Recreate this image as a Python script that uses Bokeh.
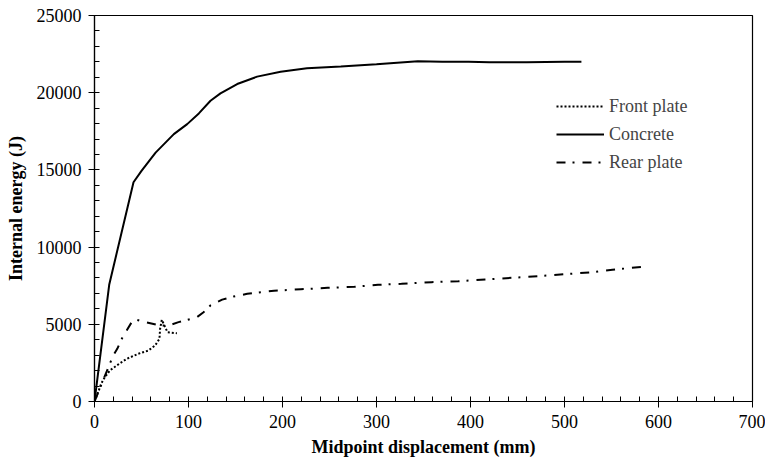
from bokeh.plotting import figure
from bokeh.models import FixedTicker, Legend, LegendItem
from bokeh.embed import file_html
from bokeh.resources import INLINE

# Concrete
concrete_x = [0, 15.7, 41.5, 50, 65, 84.4, 98.6, 111, 123.4, 134, 151.8, 173, 198, 226, 262, 300, 344, 370, 398, 420, 460, 500, 518]
concrete_y = [0, 7580, 14200, 14935, 16120, 17316, 17965, 18658, 19480, 19955, 20560, 21040, 21360, 21580, 21700, 21850, 22040, 22000, 22000, 21970, 21980, 22000, 22000]

# Front plate
front_x = [0, 3.9, 7.1, 11, 16.4, 23.5, 34.2, 46.6, 57.3, 64.5, 69.1, 69.8, 71.6, 75.2, 77.7, 87.7]
front_y = [0, 600, 1145, 1575, 2010, 2330, 2760, 3090, 3300, 3630, 4060, 4710, 5290, 4810, 4490, 4420]

# Rear plate
rear_x = [0, 8, 19.9, 24.2, 29.5, 34.2, 39.6, 44.9, 53.8, 69.8, 78.7, 89.4, 99, 109, 116, 123.3, 135.8, 148, 162.5, 176.8, 191, 219.6, 248, 276.6, 301.6, 326.5, 358.6, 387, 415.6, 444, 472.7, 501, 529.7, 551, 585]
rear_y = [0, 1200, 2979, 3410, 4120, 4600, 5140, 5290, 5140, 4920, 4920, 5140, 5290, 5460, 5780, 6220, 6600, 6800, 6975, 7080, 7170, 7270, 7360, 7430, 7560, 7620, 7730, 7790, 7900, 8010, 8120, 8245, 8375, 8530, 8740]

x_ticks = [0, 100, 200, 300, 400, 500, 600, 700]
y_ticks = [0, 5000, 10000, 15000, 20000, 25000]

FONT = "Liberation Serif"

p = figure(width=765, height=466, output_backend="svg", toolbar_location=None,
           x_range=(0, 700), y_range=(0, 25000),
           min_border_left=94, min_border_right=13, min_border_top=15, min_border_bottom=65)
p.outline_line_color = "black"
p.outline_line_width = 1.2
p.xgrid.visible = False
p.ygrid.visible = False
p.background_fill_color = "white"
p.border_fill_color = "white"

l1 = p.line(front_x, front_y, line_color="black", line_width=2, line_dash="2 2")
l2 = p.line(concrete_x, concrete_y, line_color="black", line_width=2)
l3 = p.line(rear_x, rear_y, line_color="black", line_width=2, line_dash="9 7 2 8")

p.xaxis.ticker = FixedTicker(ticks=x_ticks, minor_ticks=list(range(0, 701, 20)))
p.yaxis.ticker = FixedTicker(ticks=y_ticks, minor_ticks=list(range(0, 25001, 1000)))

for ax in (p.xaxis[0], p.yaxis[0]):
    ax.axis_line_color = "black"
    ax.axis_line_width = 1.2
    ax.major_tick_in = 0
    ax.major_tick_out = 6
    ax.minor_tick_in = 5
    ax.minor_tick_out = 0
    ax.major_tick_line_color = "black"
    ax.minor_tick_line_color = "black"
    ax.major_label_text_font = FONT
    ax.major_label_text_font_size = "18px"
    ax.major_label_text_color = "black"
    ax.axis_label_text_font = FONT
    ax.axis_label_text_font_size = "18px"
    ax.axis_label_text_font_style = "bold"
    ax.axis_label_text_color = "black"

p.xaxis.axis_label = "Midpoint displacement (mm)"
p.yaxis.axis_label = "Internal energy (J)"
p.xaxis.major_label_standoff = 7
p.yaxis.major_label_standoff = 7
p.xaxis.axis_label_standoff = 6
p.yaxis.axis_label_standoff = 8

legend = Legend(items=[LegendItem(label="Front plate", renderers=[l1]),
                       LegendItem(label="Concrete", renderers=[l2]),
                       LegendItem(label="Rear plate", renderers=[l3])],
                location=(462, 227), padding=0, margin=0, spacing=4,
                label_height=24, glyph_height=24, glyph_width=48, label_standoff=5,
                label_text_font=FONT, label_text_font_size="18px",
                border_line_color=None, background_fill_alpha=0)
p.add_layout(legend)

open("out.html", "w").write(file_html(p, INLINE))
